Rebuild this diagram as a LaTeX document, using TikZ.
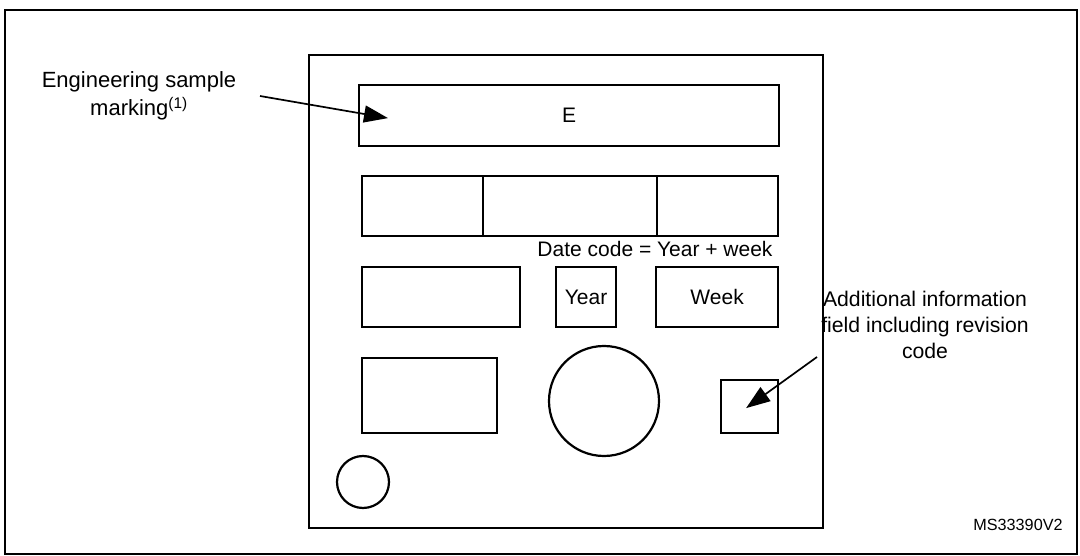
\documentclass[tikz,border=0pt]{standalone}
\usepackage{fontspec}
\setmainfont{Liberation Sans}
\usetikzlibrary{arrows.meta,calc}
\begin{document}
\begin{tikzpicture}[x=1pt,y=-1pt,
  box/.style={draw,line width=2.2pt,rectangle,inner sep=0pt,anchor=north west},
  ring/.style={draw,line width=2.2pt,circle,inner sep=0pt},
  lbl/.style={inner sep=0pt,align=center,font=\fontsize{21}{26}\selectfont},
  arr/.style={line width=1.7pt,-{Triangle[length=24pt,width=17pt]}}]
\useasboundingbox (0,0) rectangle (1080,556);
\fill[white] (0,0) rectangle (1080,556);
% outer frame
\draw[line width=2.2pt] (5,10) rectangle (1077,554);
% chip body
\node[box,minimum width=514pt,minimum height=473pt] (chip) at (308,54) {};
% engineering sample marking field
\node[box,minimum width=420pt,minimum height=61pt,font=\fontsize{21}{24}\selectfont] (E) at (358,84) {E};
% row 2
\node[box,minimum width=121pt,minimum height=60pt] (r2a) at (361,175) {};
\node[box,minimum width=174pt,minimum height=60pt] (r2b) at (482,175) {};
\node[box,minimum width=121pt,minimum height=60pt] (r2c) at (656,175) {};
% date code
\node[lbl,anchor=base] (date) at (655,256.7) {Date code = Year + week};
% row 3
\node[box,minimum width=158pt,minimum height=60pt] (r3a) at (361,266) {};
\node[box,minimum width=60pt,minimum height=60pt,font=\fontsize{21}{24}\selectfont] (year) at (555,266) {Year};
\node[box,minimum width=122pt,minimum height=60pt,font=\fontsize{21}{24}\selectfont] (week) at (655,266) {Week};
% row 4
\node[box,minimum width=135pt,minimum height=75pt] (r4a) at (361,357) {};
\node[ring,minimum size=110pt] (bigc) at (604,401) {};
\node[box,minimum width=57pt,minimum height=53pt] (rev) at (720,379) {};
\node[ring,minimum size=52pt] (smallc) at (363,482) {};
% labels
\node[lbl,font=\fontsize{22}{28.3}\selectfont] (esm) at (139,95.7) {Engineering sample\\marking\textsuperscript{(1)}};
\node[lbl,font=\fontsize{21.2}{25.8}\selectfont] (aif) at (925,325.2) {Additional information\\field including revision\\code};
\node[inner sep=0pt,anchor=base,font=\fontsize{16.2}{18}\selectfont] (ms) at (1018,530) {MS33390V2};
% arrows
\coordinate (s1) at (260,96);
\coordinate (t1) at ($(E.west)+(30,2.5)$);
\draw[arr] (s1) -- (t1);
\coordinate (s2) at (817,357);
\coordinate (t2) at ($(rev.center)+(-3.5,1.5)$);
\draw[arr] (s2) -- (t2);
\end{tikzpicture}
\end{document}
